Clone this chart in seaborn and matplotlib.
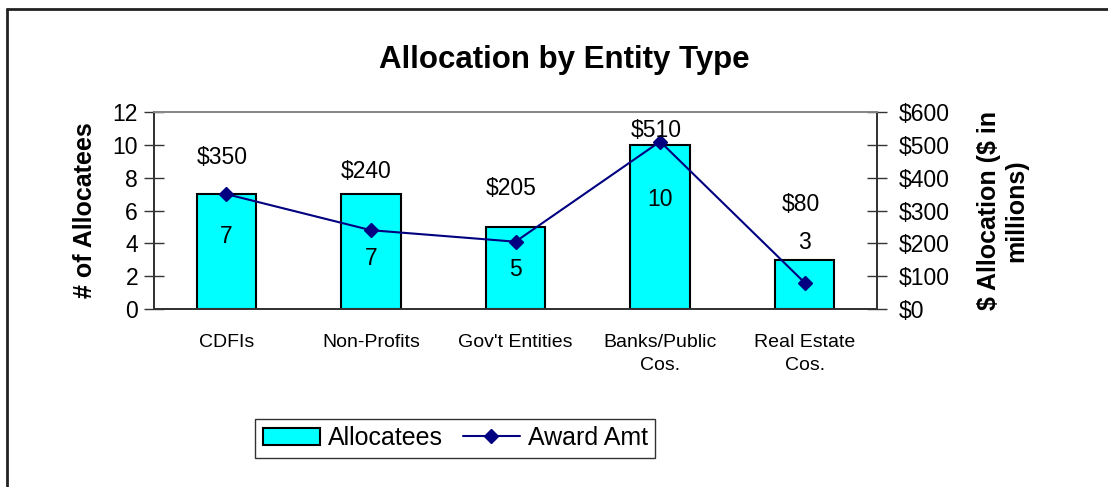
import numpy as np
import pandas as pd
import matplotlib
matplotlib.use("Agg")
import matplotlib.pyplot as plt
from matplotlib.lines import Line2D
from matplotlib.patches import Patch
import seaborn as sns

categories = ["CDFIs", "Non-Profits", "Gov't Entities", "Banks/Public\nCos.", "Real Estate\nCos."]
allocatees = [7, 7, 5, 10, 3]
award_amt = [350, 240, 205, 510, 80]
left_ticks = [0, 2, 4, 6, 8, 10, 12]
right_ticks = [0, 100, 200, 300, 400, 500, 600]

# label placement (text positions, in axis units)
count_label_y = [4.4, 3.05, 2.38, 6.64, 4.08]
award_label_y = [460, 420, 368, 545, 317]

sns.set_theme(style="white")
plt.rcParams["font.family"] = ["Liberation Sans", "DejaVu Sans"]
plt.rcParams["text.parse_math"] = False
for k in ["text.color", "axes.labelcolor", "xtick.color", "ytick.color"]:
    plt.rcParams[k] = "black"

df = pd.DataFrame({"cat": categories, "n": allocatees, "amt": award_amt})

fig = plt.figure(figsize=(11.08, 4.87), dpi=100)
ax = fig.add_axes([154 / 1108, 1 - 309 / 487, (877 - 154) / 1108, (309 - 112) / 487])

sns.barplot(data=df, x="cat", y="n", ax=ax, color="#00FFFF", width=0.41,
            edgecolor="black", linewidth=1.5, saturation=1)
ax2 = ax.twinx()
ax2.plot(np.arange(len(categories)), df["amt"], color="#000080", lw=1.5,
         marker="D", markersize=7)

ax.set_xlim(-0.5, len(categories) - 0.5)
ax.set_ylim(0, 12)
ax2.set_ylim(0, 600)
ax.set_yticks(left_ticks)
ax.set_yticklabels([str(t) for t in left_ticks], fontsize=16.5)
ax2.set_yticks(right_ticks)
ax2.set_yticklabels([f"${t}" for t in right_ticks], fontsize=16.5)

ax.set_xticks(range(len(categories)))
ax.set_xticklabels(categories, fontsize=14, linespacing=1.45)
ax.set_xticks(np.arange(-0.5, len(categories)), minor=True)
ax.tick_params(axis="x", which="major", length=0, pad=18)
ax.tick_params(axis="x", which="minor", direction="inout", length=12, width=1, color="#333333")
ax.tick_params(axis="y", direction="inout", length=15, width=1, color="#333333", pad=4)
ax2.tick_params(axis="y", direction="inout", length=15, width=1, color="#333333", pad=8)
ax.set_xlabel("")
ax.set_ylabel("# of Allocatees", fontsize=18, fontweight="bold", labelpad=11)
ax2.set_ylabel("$ Allocation ($ in\nmillions)", fontsize=18, fontweight="bold",
               labelpad=20, linespacing=1.15)

for a in (ax, ax2):
    a.spines["top"].set_color("#888888")
    a.spines["bottom"].set_color("#333333")
    a.spines["left"].set_color("#333333")
    a.spines["right"].set_color("#333333")
    for s in a.spines.values():
        s.set_linewidth(1.3)
ax.grid(False)
ax2.grid(False)

for i, (n, y) in enumerate(zip(allocatees, count_label_y)):
    ax.text(i, y, str(n), ha="center", va="center", fontsize=16.5, color="black")
for i, (v, y) in enumerate(zip(award_amt, award_label_y)):
    ax2.text(i - 0.03, y, f"${v}", ha="center", va="center", fontsize=16.5, color="black")

fig.text(564 / 1108, 1 - 60 / 487, "Allocation by Entity Type", ha="center", va="center",
         fontsize=22.5, fontweight="bold")

handles = [Patch(facecolor="#00FFFF", edgecolor="black", linewidth=1.5),
           Line2D([0], [0], color="#000080", lw=1.5, marker="D", markersize=7)]
leg = fig.legend(handles, ["Allocatees", "Award Amt"], loc="center",
                 bbox_to_anchor=(455 / 1108, 1 - 438 / 487), ncol=2, fontsize=18,
                 frameon=True, fancybox=False, edgecolor="black", handlelength=2.3,
                 handletextpad=0.3, columnspacing=0.8, borderpad=0.3)
leg.get_frame().set_linewidth(1.0)

# figure border (left and top visible)
fig.add_artist(Line2D([7 / 1108, 7 / 1108], [0, 1 - 9 / 487], color="#222222", lw=2,
                      transform=fig.transFigure))
fig.add_artist(Line2D([7 / 1108, 1], [1 - 9 / 487, 1 - 9 / 487], color="#222222", lw=2,
                      transform=fig.transFigure))

fig.savefig("out.png", dpi=100)
